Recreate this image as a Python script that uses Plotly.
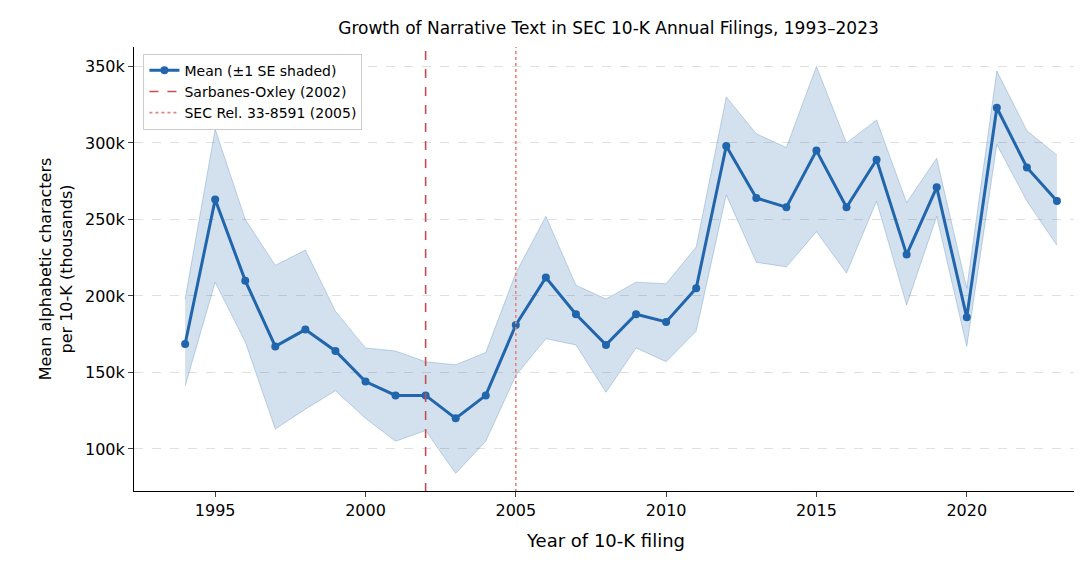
import plotly.graph_objects as go

years = list(range(1994, 2024))
mean = [168.6,263,210,167,178,164,144,135,135,120,135,181,212,188,168,188,183,205,298,264,258,295,258,289,227,271,186,323,284,262]
upper = [198,309,250,220,230,190,166,164,157,155,163,215,252,207,198,209,208,232,330,306,297,350,300,315,261,290,205,347,308,292]
lower = [141,209,170,113,126,138,120,105,112,84,105,148,172,168,137,166,157,177,266,222,219,242,215,262,194,252,167,299,262,233]

fig = go.Figure()
fig.add_trace(go.Scatter(x=years, y=upper, mode="lines", line=dict(color="rgba(33,102,172,0.25)", width=1), showlegend=False, hoverinfo="skip"))
fig.add_trace(go.Scatter(x=years, y=lower, mode="lines", line=dict(color="rgba(33,102,172,0.25)", width=1), fill="tonexty", fillcolor="rgba(33,102,172,0.2)", showlegend=False, hoverinfo="skip"))
fig.add_trace(go.Scatter(x=years, y=mean, mode="lines+markers", name="Mean (±1 SE shaded)", line=dict(color="#2166ac", width=3), marker=dict(size=8, color="#2166ac")))
fig.add_trace(go.Scatter(x=[2002, 2002], y=[60, 400], mode="lines", name="Sarbanes-Oxley (2002)", line=dict(color="#c44e52", width=1.6, dash="dash")))
fig.add_trace(go.Scatter(x=[2005, 2005], y=[60, 400], mode="lines", name="SEC Rel. 33-8591 (2005)", line=dict(color="#e8837a", width=1.6, dash="dot")))

fig.update_layout(
    width=1082, height=574, paper_bgcolor="white", plot_bgcolor="white",
    margin=dict(l=126, r=12, t=39, b=91),
    font=dict(family="DejaVu Sans", size=16, color="black"),
    title=dict(text="Growth of Narrative Text in SEC 10-K Annual Filings, 1993–2023", x=0.555, xanchor="center", y=0.975, font=dict(size=17)),
    legend=dict(x=0.01, y=0.985, xanchor="left", yanchor="top", traceorder="normal", bordercolor="#cccccc", borderwidth=1, font=dict(size=14), bgcolor="rgba(255,255,255,0.9)"),
    xaxis=dict(range=[1992.3, 2023.7], tickvals=[1995,2000,2005,2010,2015,2020], showline=True, linecolor="black", ticks="outside", showgrid=False, zeroline=False,
               title=dict(text="Year of 10-K filing", font=dict(size=18))),
    yaxis=dict(range=[72.5, 362.7], tickvals=[100,150,200,250,300,350], ticktext=["100k","150k","200k","250k","300k","350k"], showline=True, linecolor="black", ticks="outside",
               showgrid=True, gridcolor="rgba(0,0,0,0.12)", griddash="dash", zeroline=False,
               title=dict(text="Mean alphabetic characters<br>per 10-K (thousands)", font=dict(size=16), standoff=8)),
)
fig.write_html("out.html")
